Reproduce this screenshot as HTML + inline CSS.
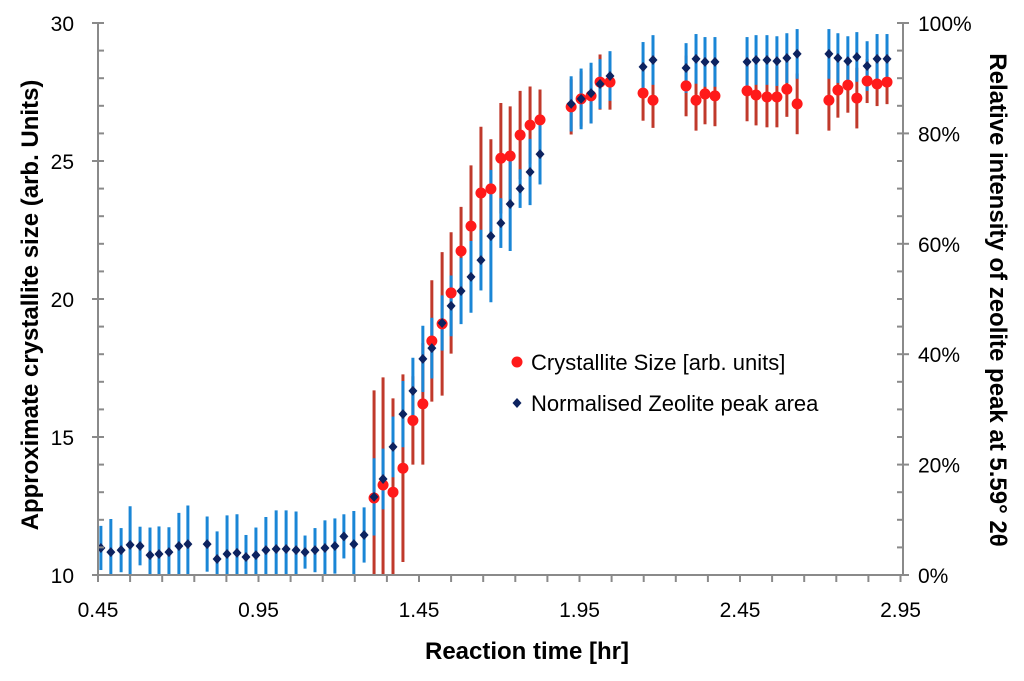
<!DOCTYPE html>
<html><head><meta charset="utf-8"><style>
body{margin:0;background:#fff}
svg text{font-family:"Liberation Sans",sans-serif}
</style></head><body>
<svg id="chart" width="1024" height="676" viewBox="0 0 1024 676"></svg>
<script>
const times=[0.459,0.490,0.522,0.550,0.581,0.612,0.640,0.671,0.702,0.730,0.790,0.821,0.852,0.883,0.911,0.942,0.973,1.005,1.036,1.067,1.095,1.126,1.157,1.188,1.216,1.247,1.279,1.310,1.338,1.369,1.400,1.431,1.462,1.490,1.522,1.550,1.581,1.612,1.643,1.674,1.705,1.734,1.765,1.796,1.827,1.924,1.955,1.986,2.014,2.045,2.148,2.179,2.282,2.313,2.341,2.372,2.472,2.500,2.534,2.565,2.596,2.628,2.727,2.755,2.786,2.814,2.846,2.877,2.908];
const zeolitePct=[4.9,4.15,4.5,5.45,5.25,3.6,3.8,4.15,5.25,5.6,5.6,2.9,3.8,4.0,3.25,3.6,4.5,4.7,4.7,4.5,4.15,4.5,4.9,5.25,7.0,5.6,7.25,14.15,17.4,23.2,29.15,33.35,39.15,41.1,45.65,48.75,51.45,54.0,57.05,61.4,63.75,67.2,70,73,76.25,85.35,86.25,87.3,88.95,90.4,92.05,93.3,91.85,93.5,92.95,92.95,92.95,93.3,93.3,93.1,93.65,94.4,94.4,93.65,93.1,93.85,92.2,93.5,93.5];
const zeoliteErr=[4,6,4,7,3.5,5,5,4.5,6,7,5,5,7,7,4,5,6,7,7,7,3,4,5,5,4,6,5,7,5.5,5.5,6,6,6,5.5,5,5.5,6,6.5,5.5,12,4.5,8.5,3.5,6,5.5,5,5.5,5.5,4.5,4.5,4.5,4.5,4.5,4.5,4.5,4.5,4.5,4.5,4.5,4.5,4.5,4.5,4.5,4.5,4.5,4.5,4.5,4.5,4.5];
const crystSize=[null,null,null,null,null,null,null,null,null,null,null,null,null,null,null,null,null,null,null,null,null,null,null,null,null,null,null,12.79,13.26,13.0,13.87,15.6,16.2,18.48,19.1,20.22,21.74,22.64,23.84,23.99,25.1,25.18,25.94,26.3,26.49,26.96,27.25,27.36,27.86,27.86,27.46,27.2,27.72,27.2,27.43,27.36,27.54,27.39,27.32,27.32,27.6,27.07,27.2,27.57,27.75,27.28,27.9,27.79,27.86];
const crystErr=[0,0,0,0,0,0,0,0,0,0,0,0,0,0,0,0,0,0,0,0,0,0,0,0,0,0,0,3.9,3.9,3.4,3.4,1.6,2.2,2.2,2.6,2.2,1.6,2.2,2.4,1.8,2.0,1.8,1.6,1.4,1.1,1.0,1.0,1.0,1.0,1.0,1.0,1.0,1.1,1.1,1.1,1.1,1.1,1.1,1.1,1.1,1.0,1.1,1.1,1.0,1.0,1.1,0.8,0.8,0.8];
const xTicks=[0.45,0.95,1.45,1.95,2.45,2.95];
const yLeftTicks=[10,15,20,25,30];
const yRightTicks=[0,20,40,60,80,100];

const X0=98,X1=903,Y0=575,Y1=23;
const xs=t=>X0+(t-0.45)*321;
const yl=v=>Y0-(v-10)/20*(Y0-Y1);
const yr=p=>Y0-p/100*(Y0-Y1);
const svg=document.getElementById('chart');
const NS='http://www.w3.org/2000/svg';
function mk(tag,attrs,parent){const e=document.createElementNS(NS,tag);for(const k in attrs)e.setAttribute(k,attrs[k]);(parent||svg).appendChild(e);return e;}

const clip=mk('clipPath',{id:'pc'});mk('rect',{x:X0,y:Y1-10,width:X1-X0,height:Y0-Y1+10},clip);
const plot=mk('g',{'clip-path':'url(#pc)'});



times.forEach((t,i)=>{
  if(crystSize[i]==null)return;
  const l=mk('line',{x1:xs(t),x2:xs(t),y1:yl(crystSize[i]-crystErr[i]),y2:yl(crystSize[i]+crystErr[i]),stroke:'#c0392b','stroke-width':3},plot);
  
  
});
times.forEach((t,i)=>{
  const l=mk('line',{x1:xs(t),x2:xs(t),y1:yr(zeolitePct[i]-zeoliteErr[i]),y2:yr(zeolitePct[i]+zeoliteErr[i]),stroke:'#1a86d6','stroke-width':3},plot);
  
  
});
times.forEach((t,i)=>{
  if(crystSize[i]==null)return;
  const c=mk('circle',{cx:xs(t),cy:yl(crystSize[i]),r:5.5,fill:'#ff1a1a'},plot);
  
  
});
times.forEach((t,i)=>{
  const x=xs(t),y=yr(zeolitePct[i]);
  const d=mk('polygon',{points:`${x},${y-5} ${x+4.5},${y} ${x},${y+5} ${x-4.5},${y}`,fill:'#0d2360'},plot);
  
  
});

const ax=mk('g',{stroke:'#8a8a8a','stroke-width':2,fill:'none'});


mk('line',{x1:X0,y1:Y1,x2:X0,y2:Y0},ax);
mk('line',{x1:X1,y1:Y1,x2:X1,y2:Y0},ax);
mk('line',{x1:X0-6,y1:Y0,x2:X1+6,y2:Y0},ax);
for(let v=10;v<=30;v++){const y=yl(v);const maj=v%5==0;mk('line',{x1:maj?X0-6:X0,x2:X0+6,y1:y,y2:y},ax);}
for(let p=0;p<=100;p+=5){const y=yr(p);const maj=p%20==0;mk('line',{x1:X1-6,x2:maj?X1+6:X1,y1:y,y2:y},ax);}
for(let k=0;k<=25;k++){const x=xs(0.45+k*0.1);mk('line',{x1:x,x2:x,y1:Y0,y2:Y0+7},ax);}

function txt(s,x,y,opt,name){const e=mk('text',Object.assign({x:x,y:y,'font-size':21,fill:'#000'},opt||{}));e.textContent=s;return e;}
yLeftTicks.forEach(v=>txt(String(v),X0-24,yl(v)+8,{'text-anchor':'end'},'y-left-tick-label'));
yRightTicks.forEach(p=>txt(p+'%',X1+15,yr(p)+8,{'text-anchor':'start'},'y-right-tick-label'));
xTicks.forEach(t=>txt(t.toFixed(2),xs(t),Y0+42,{'text-anchor':'middle'},'x-tick-label'));
txt('Reaction time [hr]',527,659,{'text-anchor':'middle','font-size':24,'font-weight':'bold'},'x-axis-title');
txt('Approximate crystallite size (arb. Units)',0,0,{'text-anchor':'middle','font-size':24,'font-weight':'bold',transform:'translate(38,305) rotate(-90)'},'y-left-axis-title');
txt('Relative intensity of zeolite peak at 5.59° 2θ',0,0,{'text-anchor':'middle','font-size':24,'font-weight':'bold',transform:'translate(990,300) rotate(90)'},'y-right-axis-title');

const lg=mk('g',{});


const lc=mk('circle',{cx:517,cy:362,r:5.5,fill:'#ff1a1a'},lg);


const ld=mk('polygon',{points:'517,398 521.5,403 517,408 512.5,403',fill:'#0d2360'},lg);


lg.appendChild(txt('Crystallite Size [arb. units]',531,370,{'font-size':22},'legend-crystallite-label'));
lg.appendChild(txt('Normalised Zeolite peak area',531,411,{'font-size':22},'legend-zeolite-label'));
</script>
</body></html>
